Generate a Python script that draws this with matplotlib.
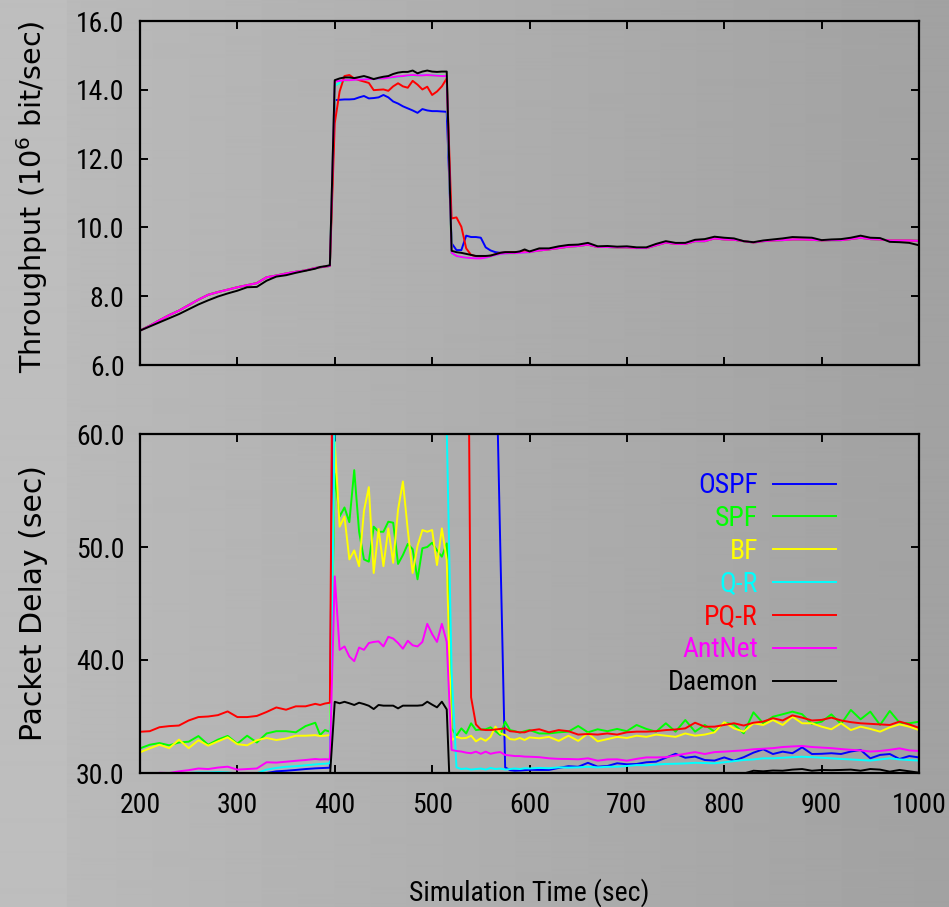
import numpy as np
import matplotlib
matplotlib.use("Agg")
import matplotlib.pyplot as plt
from matplotlib import font_manager
from matplotlib.ticker import FormatStrFormatter

# ---------------------------------------------------------------------------
# Sampling instants (s): 10 s steps, 5 s steps around the load burst
# ---------------------------------------------------------------------------
time = list(range(200, 390, 10)) + list(range(385, 605, 5)) + list(range(610, 1010, 10))

algorithms = ["OSPF", "SPF", "BF", "Q-R", "PQ-R", "AntNet", "Daemon"]
colors = ["#0000ff", "#00ff00", "#ffff00", "#00ffff", "#ff0000", "#ff00ff", "#000000"]

# ---------------------------------------------------------------------------
# Throughput (10^6 bit/s)
# ---------------------------------------------------------------------------
# before the burst (200-380 s), common to all adaptive algorithms
thr_pre = [7.00, 7.14, 7.30, 7.45, 7.58, 7.74, 7.90, 8.04, 8.12, 8.19,
           8.26, 8.32, 8.38, 8.55, 8.60, 8.66, 8.71, 8.75, 8.82]
# after the burst (610-1000 s), common to all adaptive algorithms
thr_post = [9.33, 9.36, 9.40, 9.44, 9.46, 9.50, 9.43, 9.43, 9.42, 9.42,
            9.40, 9.40, 9.48, 9.56, 9.52, 9.52, 9.60, 9.60, 9.68, 9.65,
            9.64, 9.60, 9.56, 9.60, 9.62, 9.63, 9.65, 9.65, 9.64, 9.62,
            9.63, 9.63, 9.66, 9.70, 9.66, 9.65, 9.62, 9.62, 9.62, 9.61]

# burst window 385-600 s
thr_ospf_burst = [8.84, 8.86, 8.88, 13.70, 13.71, 13.72, 13.72, 13.73, 13.78, 13.82,
                  13.75, 13.76, 13.78, 13.85, 13.78, 13.66, 13.60, 13.52, 13.46, 13.40,
                  13.33, 13.44, 13.40, 13.38, 13.38, 13.37, 13.36, 9.54, 9.34, 9.34,
                  9.76, 9.72, 9.72, 9.70, 9.42, 9.33, 9.28, 9.26, 9.27, 9.28,
                  9.28, 9.29, 9.33, 9.29]
thr_qr_burst = [8.84, 8.86, 8.88, 14.12, 14.20, 14.27, 14.29, 14.29, 14.30, 14.31,
                14.31, 14.32, 14.32, 14.34, 14.35, 14.36, 14.38, 14.40, 14.41, 14.42,
                14.42, 14.43, 14.43, 14.42, 14.42, 14.41, 14.40, 9.25, 9.17, 9.14,
                9.12, 9.11, 9.11, 9.11, 9.12, 9.16, 9.20, 9.23, 9.24, 9.25,
                9.25, 9.26, 9.27, 9.28]
thr_pqr_burst = [8.84, 8.86, 8.88, 13.03, 13.95, 14.40, 14.43, 14.33, 14.28, 14.24,
                 14.20, 13.99, 14.00, 14.01, 13.97, 14.10, 14.19, 14.10, 14.06, 14.26,
                 14.15, 14.01, 14.09, 13.85, 13.95, 14.10, 14.33, 10.26, 10.29, 10.02,
                 9.39, 9.20, 9.16, 9.15, 9.16, 9.18, 9.22, 9.26, 9.27, 9.28,
                 9.28, 9.29, 9.33, 9.29]
thr_antnet_burst = [8.84, 8.86, 8.88, 14.24, 14.26, 14.28, 14.28, 14.29, 14.30, 14.30,
                    14.31, 14.32, 14.33, 14.33, 14.35, 14.37, 14.39, 14.40, 14.42, 14.43,
                    14.42, 14.42, 14.43, 14.42, 14.41, 14.40, 14.40, 9.26, 9.17, 9.14,
                    9.12, 9.11, 9.10, 9.10, 9.12, 9.16, 9.20, 9.23, 9.24, 9.25,
                    9.25, 9.26, 9.27, 9.28]

thr_daemon_pre = [7.00, 7.12, 7.24, 7.36, 7.48, 7.62, 7.76, 7.88, 7.99, 8.08,
                  8.16, 8.26, 8.27, 8.45, 8.57, 8.61, 8.68, 8.74, 8.80]
thr_daemon_burst = [8.85, 8.87, 8.90, 14.28, 14.33, 14.36, 14.36, 14.34, 14.37, 14.40,
                    14.36, 14.31, 14.35, 14.38, 14.40, 14.46, 14.50, 14.52, 14.52, 14.56,
                    14.48, 14.53, 14.56, 14.53, 14.52, 14.53, 14.53, 9.32, 9.28, 9.26,
                    9.23, 9.20, 9.17, 9.17, 9.17, 9.18, 9.22, 9.26, 9.28, 9.28,
                    9.28, 9.30, 9.36, 9.30]
thr_daemon_post = [9.39, 9.39, 9.45, 9.49, 9.50, 9.55, 9.45, 9.46, 9.44, 9.45,
                   9.42, 9.42, 9.52, 9.60, 9.55, 9.55, 9.64, 9.66, 9.73, 9.70,
                   9.68, 9.60, 9.57, 9.62, 9.65, 9.68, 9.72, 9.71, 9.70, 9.63,
                   9.65, 9.66, 9.70, 9.76, 9.70, 9.69, 9.58, 9.57, 9.55, 9.48]

thr_ospf = thr_pre + thr_ospf_burst + thr_post
thr_qr = thr_pre + thr_qr_burst + thr_post
thr_spf = thr_qr          # SPF and BF deliver the same throughput as Q-R
thr_bf = thr_qr
thr_pqr = thr_pre + thr_pqr_burst + thr_post
thr_antnet = thr_pre + thr_antnet_burst + thr_post
thr_daemon = thr_daemon_pre + thr_daemon_burst + thr_daemon_post

# ---------------------------------------------------------------------------
# Packet delay (s); values outside 30-60 fall off the plotted range
# ---------------------------------------------------------------------------
delay_ospf = [29.2, 29.4, 29.3, 29.5, 29.4, 29.6, 29.5, 29.7, 29.6, 29.8,
              29.7, 29.9, 29.8, 30.0, 30.15, 30.2, 30.27, 30.35, 30.41,
              30.43, 30.45, 30.47, 95, 95, 95, 95, 95, 95, 95,
              95, 95, 95, 95, 95, 95, 95, 95, 95, 95,
              95, 95, 95, 95, 95, 95, 95, 95, 95, 95,
              95, 95, 95, 95, 95, 95, 70, 50, 30.5, 30.25,
              30.2, 30.22, 30.25, 30.28,
              30.27, 30.27, 30.45, 30.6, 30.55, 30.9, 30.56, 30.62, 30.86, 30.77,
              30.8, 30.95, 31.0, 31.35, 31.7, 31.35, 31.45, 31.15, 31.1, 31.38,
              31.09, 31.4, 31.8, 32.1, 31.68, 31.89, 31.75, 32.27, 31.68, 31.7,
              31.75, 31.68, 31.9, 32.04, 31.3, 31.6, 31.68, 31.24, 31.5, 31.38]

delay_spf = [32.18, 32.5, 32.65, 32.45, 32.7, 32.77, 33.27, 32.5, 32.95, 33.28,
             32.6, 33.3, 32.7, 33.5, 33.7, 33.7, 33.6, 34.15, 34.45,
             33.36, 33.8, 33.65, 56.5, 52.7, 53.5, 52.2, 56.8, 51.35, 48.9,
             48.7, 51.8, 51.35, 51.35, 52.24, 52.15, 48.5, 49.29, 50.27, 49.8,
             47.14, 49.89, 50.0, 50.38, 49.7, 49.14, 50.32, 33.95, 33.3, 33.95,
             33.5, 34.4, 33.8, 33.85, 33.87, 34.04, 33.7, 33.36, 34.54, 33.8,
             33.7, 33.57, 33.7, 33.8,
             33.5, 33.5, 33.6, 33.66, 34.16, 33.6, 33.87, 33.7, 33.9, 33.7,
             34.25, 33.9, 33.66, 34.4, 33.66, 34.69, 33.66, 34.25, 33.66, 34.45,
             34.3, 33.51, 35.37, 34.4, 34.98, 35.2, 35.43, 35.2, 34.34, 34.54,
             35.19, 34.34, 35.58, 34.75, 35.43, 34.25, 35.49, 34.45, 34.4, 34.54]

delay_bf = [31.83, 32.18, 32.5, 32.2, 32.95, 32.2, 32.9, 32.42, 32.8, 33.16,
            32.55, 32.45, 32.9, 33.1, 32.92, 33.05, 33.3, 33.3, 33.35,
            33.27, 33.3, 33.36, 59.3, 51.8, 52.7, 48.9, 49.7, 48.3, 53.2,
            55.3, 47.7, 51.6, 48.3, 51.65, 48.6, 53.3, 55.8, 51.5, 47.7,
            50.1, 51.5, 51.35, 51.5, 48.4, 51.65, 48.85, 32.9, 33.2, 33.07,
            33.1, 33.3, 32.8, 33.07, 32.85, 33.2, 34.1, 33.5, 33.36, 33.0,
            32.95, 33.1, 32.92, 33.15,
            33.07, 33.2, 32.84, 33.3, 32.84, 33.5, 32.8, 33.0, 33.2, 33.1,
            33.3, 33.2, 33.4, 33.3, 33.2, 33.5, 33.3, 33.4, 33.6, 34.5,
            33.95, 33.66, 34.4, 34.25, 34.69, 34.25, 34.98, 34.4, 34.4, 34.1,
            33.87, 34.4, 33.8, 34.1, 33.9, 33.66, 34.04, 34.3, 34.1, 33.8]

delay_qr = [29.6, 29.7, 29.8, 29.85, 29.9, 30.0, 30.05, 30.05, 30.08, 30.05,
            29.95, 30.0, 29.98, 30.3, 30.45, 30.55, 30.6, 30.68, 30.76,
            30.8, 30.82, 30.86, 61, 95, 95, 95, 95, 95, 95,
            95, 95, 95, 95, 95, 95, 95, 95, 95, 95,
            95, 95, 95, 95, 95, 95, 60.5, 39, 30.5, 30.35,
            30.4, 30.3, 30.35, 30.4, 30.3, 30.45, 30.35, 30.4, 30.3, 30.35,
            30.4, 30.35, 30.42, 30.4,
            30.45, 30.42, 30.5, 30.48, 30.5, 30.55, 30.5, 30.55, 30.56, 30.62,
            30.7, 30.68, 30.75, 30.8, 30.82, 30.85, 30.9, 30.88, 30.86, 30.95,
            31.05, 31.15, 31.2, 31.3, 31.3, 31.35, 31.4, 31.44, 31.4, 31.35,
            31.3, 31.24, 31.2, 31.15, 31.1, 31.2, 31.3, 31.2, 31.15, 31.1]

delay_pqr = [33.65, 33.7, 34.05, 34.15, 34.2, 34.65, 34.95, 35.0, 35.12, 35.45,
             34.95, 34.95, 35.05, 35.4, 35.8, 35.6, 35.9, 35.9, 36.12,
             36.02, 36.15, 36.22, 95, 95, 95, 95, 95, 95, 95,
             95, 95, 95, 95, 95, 95, 95, 95, 95, 95,
             95, 95, 95, 95, 95, 95, 95, 95, 95, 95,
             95, 36.7, 34.3, 33.85, 33.8, 33.8, 33.85, 33.9, 33.95, 33.7,
             33.66, 33.6, 33.6, 33.75,
             33.87, 33.6, 33.8, 33.7, 33.4, 33.45, 33.4, 33.5, 33.4, 33.6,
             33.66, 33.66, 33.7, 33.8, 33.85, 33.95, 34.45, 34.1, 34.1, 34.25,
             34.4, 34.2, 34.45, 34.55, 34.85, 34.65, 35.1, 34.9, 34.65, 34.7,
             34.9, 34.65, 34.5, 34.4, 34.35, 34.3, 34.25, 34.55, 34.3, 34.0]

delay_antnet = [29.7, 29.8, 30.02, 30.0, 30.15, 30.25, 30.4, 30.35, 30.48, 30.56,
                30.3, 30.35, 30.4, 30.95, 30.92, 31.0, 31.08, 31.15, 31.24,
                31.2, 31.22, 31.2, 47.4, 40.9, 41.2, 40.3, 39.9, 41.1, 40.9,
                41.5, 41.6, 41.65, 41.2, 42.05, 41.9, 41.5, 41.0, 41.7, 41.3,
                41.2, 41.6, 43.2, 42.3, 41.6, 43.2, 41.6, 32.04, 31.95, 31.9,
                31.8, 31.75, 31.89, 31.7, 31.89, 31.7, 31.8, 31.85, 31.6, 31.55,
                31.5, 31.5, 31.45, 31.44,
                31.4, 31.3, 31.25, 31.24, 31.21, 31.3, 31.09, 31.2, 31.21, 31.09,
                31.25, 31.38, 31.38, 31.4, 31.55, 31.7, 31.85, 31.68, 31.85, 31.89,
                31.95, 32.0, 32.1, 32.15, 32.2, 32.3, 32.35, 32.39, 32.3, 32.25,
                32.2, 32.12, 32.05, 32.0, 31.9, 31.95, 32.05, 32.18, 32.0, 31.95]

delay_daemon = [29.2, 29.3, 29.25, 29.35, 29.3, 29.4, 29.35, 29.45, 29.4, 29.5,
                29.45, 29.5, 29.55, 29.5, 29.6, 29.55, 29.6, 29.65, 29.6,
                29.6, 29.65, 29.6, 36.3, 36.17, 36.3, 36.17, 36.02, 36.22, 36.1,
                35.95, 35.66, 36.02, 35.96, 35.96, 35.96, 35.72, 35.96, 35.96, 35.96,
                35.96, 36.0, 36.31, 36.05, 35.81, 36.31, 35.63, 24.5, 27.0, 28.0,
                28.5, 28.8, 29.0, 29.1, 29.2, 29.3, 29.3, 29.35, 29.4, 29.4,
                29.45, 29.45, 29.5, 29.5,
                29.5, 29.55, 29.5, 29.6, 29.55, 29.6, 29.65, 29.6, 29.65, 29.7,
                29.65, 29.7, 29.75, 29.7, 29.75, 29.8, 29.75, 29.8, 29.85, 29.8,
                29.85, 29.95, 30.2, 30.15, 30.22, 30.2, 30.3, 30.35, 30.2, 30.27,
                30.25, 30.27, 30.3, 30.2, 30.35, 30.3, 30.12, 30.27, 30.15, 30.03]

throughput = [thr_ospf, thr_spf, thr_bf, thr_qr, thr_pqr, thr_antnet, thr_daemon]
delay = [delay_ospf, delay_spf, delay_bf, delay_qr, delay_pqr, delay_antnet, delay_daemon]

x_ticks = [200, 300, 400, 500, 600, 700, 800, 900, 1000]
thr_ticks = [6.0, 8.0, 10.0, 12.0, 14.0, 16.0]
delay_ticks = [30.0, 40.0, 50.0, 60.0]

# ---------------------------------------------------------------------------
# Fonts: prefer a condensed sans for the horizontal text
# ---------------------------------------------------------------------------
installed = {f.name for f in font_manager.fontManager.ttflist}
condensed = [f.name for f in font_manager.fontManager.ttflist
             if str(f.stretch) in ("condensed", "semi-condensed", "extra-condensed", "75", "87")]
narrow_name = None
for cand in ["Liberation Sans Narrow", "Arial Narrow", "Roboto Condensed",
             "DejaVu Sans Condensed", "Open Sans Condensed", "Noto Sans Condensed"]:
    if cand in installed:
        narrow_name = cand
        break
if narrow_name is not None:
    narrow = {"family": [narrow_name, "DejaVu Sans"]}
    FS = 20
else:
    cond_sans = [n for n in condensed if "Sans" in n or "Roboto" in n or "Open" in n]
    if cond_sans:
        narrow = {"family": [cond_sans[0], "DejaVu Sans"], "stretch": "condensed"}
        FS = 20
    else:
        narrow = {"family": ["Liberation Sans", "DejaVu Sans"]}
        FS = 17

# ---------------------------------------------------------------------------
# Figure
# ---------------------------------------------------------------------------
W, H, DPI = 949, 907, 100
fig = plt.figure(figsize=(W / DPI, H / DPI), dpi=DPI)

# grey shaded page background
grad = np.empty((2, W))
cols = np.arange(W)
grad[:] = np.where(cols < 67, 0.745, 0.728 - (cols - 67) / (W - 67) * 0.095)
bg = fig.add_axes([0, 0, 1, 1], zorder=-10)
bg.imshow(grad, cmap="gray", vmin=0, vmax=1, aspect="auto",
          extent=[0, 1, 0, 1], interpolation="bilinear")
bg.set_axis_off()


def px_box(left, top, right, bottom):
    return [left / W, 1 - bottom / H, (right - left) / W, (bottom - top) / H]


def style_labels(ax):
    for lab in ax.get_xticklabels() + ax.get_yticklabels():
        lab.set_fontproperties(font_manager.FontProperties(size=FS, **narrow))


ax1 = fig.add_axes(px_box(140, 21, 919, 365))
ax2 = fig.add_axes(px_box(140, 434, 919, 773))

for ax in (ax1, ax2):
    ax.set_facecolor("none")
    for sp in ax.spines.values():
        sp.set_linewidth(1.6)
    ax.tick_params(direction="in", length=6, width=1.4, top=True, right=True,
                   labelsize=FS, pad=11)
    ax.set_xlim(200, 1000)
    ax.set_xticks(x_ticks)

for name, col, y in zip(algorithms, colors, throughput):
    ax1.plot(time, y, color=col, lw=1.4, label=name)
ax1.set_ylim(6, 16)
ax1.set_yticks(thr_ticks)
ax1.yaxis.set_major_formatter(FormatStrFormatter("%.1f"))
ax1.tick_params(axis="x", labelbottom=False)
style_labels(ax1)
ax1.set_ylabel("Throughput (10$^6$ bit/sec)", fontsize=20.6, family="DejaVu Sans")
ax1.yaxis.set_label_coords(-0.115, 0.49)

for name, col, y in zip(algorithms, colors, delay):
    ax2.plot(time, y, color=col, lw=1.4, label=name)
ax2.set_ylim(30, 60)
ax2.set_yticks(delay_ticks)
ax2.yaxis.set_major_formatter(FormatStrFormatter("%.1f"))
ax2.tick_params(axis="x", pad=14)
style_labels(ax2)
ax2.set_ylabel("Packet Delay (sec)", fontsize=21.5, family="DejaVu Sans")
ax2.yaxis.set_label_coords(-0.118, 0.5)
ax2.set_xlabel("Simulation Time (sec)",
               fontproperties=font_manager.FontProperties(size=FS, **narrow),
               labelpad=42)

leg = ax2.legend(loc="upper right", bbox_to_anchor=(0.8935, 0.887),
                 frameon=False, markerfirst=False, labelcolor="linecolor",
                 prop=font_manager.FontProperties(size=FS, **narrow),
                 handlelength=2.27 * 20 / FS, handletextpad=0.54 * 20 / FS,
                 labelspacing=0.21 * 20 / FS + (0.2 if FS < 20 else 0.0),
                 borderpad=0, borderaxespad=0)

fig.savefig("out.png", dpi=DPI)
